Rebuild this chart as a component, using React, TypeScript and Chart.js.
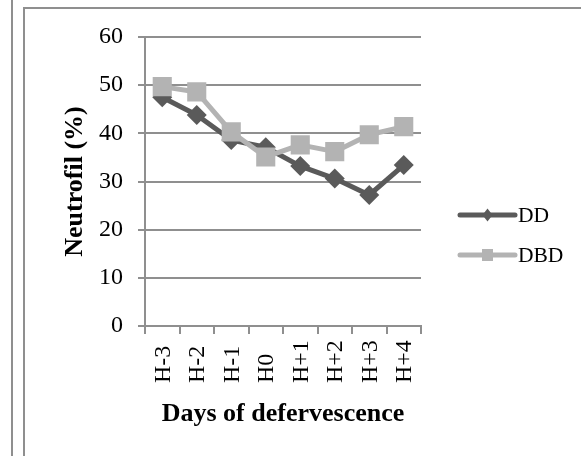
import React, { useEffect, useRef } from 'react';
import { Chart, registerables } from 'chart.js';

Chart.register(...registerables);

const categories = ['H-3', 'H-2', 'H-1', 'H0', 'H+1', 'H+2', 'H+3', 'H+4'];
const ddValues = [47.5, 43.8, 38.6, 37.1, 33.2, 30.6, 27.2, 33.4];
const dbdValues = [49.7, 48.6, 40.3, 35.1, 37.6, 36.2, 39.7, 41.4];
const yTicks = [0, 10, 20, 30, 40, 50, 60];
const seriesNames = ['DD', 'DBD'];
const yTitle = 'Neutrofil (%)';
const xTitle = 'Days of defervescence';

const DD_COLOR = '#5a5a5a';
const DBD_COLOR = '#b3b3b3';
const GRID = '#8f8f8f';
const SERIF = "'Liberation Serif', 'Times New Roman', serif";

const framePlugin = {
  id: 'frame',
  beforeDraw(chart: any) {
    const { ctx, width, height } = chart;
    ctx.save();
    ctx.strokeStyle = GRID;
    ctx.lineWidth = 2;
    ctx.beginPath();
    ctx.moveTo(12, 0);
    ctx.lineTo(12, height);
    ctx.moveTo(24, height);
    ctx.lineTo(24, 8);
    ctx.lineTo(width, 8);
    ctx.stroke();
    ctx.restore();
  },
};

const xLabelPlugin = {
  id: 'xLabels',
  afterDraw(chart: any) {
    const { ctx } = chart;
    const xs = chart.scales.x;
    ctx.save();
    ctx.font = `24px ${SERIF}`;
    ctx.fillStyle = '#000';
    ctx.textAlign = 'left';
    ctx.textBaseline = 'middle';
    categories.forEach((c, i) => {
      const x = xs.getPixelForValue(i);
      ctx.save();
      ctx.translate(x + 1, xs.top + 57);
      ctx.rotate(-Math.PI / 2);
      ctx.fillText(c, 0, 0);
      ctx.restore();
    });
    ctx.restore();
  },
};

const legendPlugin = {
  id: 'customLegend',
  afterDraw(chart: any) {
    const { ctx, chartArea } = chart;
    const colors = [DD_COLOR, DBD_COLOR];
    ctx.save();
    seriesNames.forEach((name, i) => {
      const y = chartArea.top + 178 + i * 40;
      const x0 = chartArea.right + 39;
      const x1 = chartArea.right + 94;
      const xm = (x0 + x1) / 2;
      ctx.strokeStyle = colors[i];
      ctx.fillStyle = colors[i];
      ctx.lineWidth = 5;
      ctx.lineCap = 'round';
      ctx.beginPath();
      ctx.moveTo(x0, y);
      ctx.lineTo(x1, y);
      ctx.stroke();
      ctx.beginPath();
      if (i === 0) {
        ctx.moveTo(xm, y - 6.5);
        ctx.lineTo(xm + 5, y);
        ctx.lineTo(xm, y + 6.5);
        ctx.lineTo(xm - 5, y);
        ctx.closePath();
      } else {
        ctx.rect(xm - 5.5, y - 6, 11, 12);
      }
      ctx.fill();
      ctx.fillStyle = '#000';
      ctx.font = `21.5px ${SERIF}`;
      ctx.textAlign = 'left';
      ctx.textBaseline = 'middle';
      ctx.fillText(name, x1 + 3, y + 1);
    });
    ctx.restore();
  },
};

export default function App() {
  const ref = useRef<HTMLCanvasElement | null>(null);

  useEffect(() => {
    if (!ref.current) return;
    const chart = new Chart(ref.current, {
      type: 'line',
      data: {
        labels: categories,
        datasets: [
          {
            label: seriesNames[0],
            data: ddValues,
            borderColor: DD_COLOR,
            backgroundColor: DD_COLOR,
            borderWidth: 5,
            borderJoinStyle: 'round',
            pointStyle: 'rectRot',
            pointRadius: 10,
            pointHoverRadius: 10,
            pointBorderWidth: 0,
            pointBackgroundColor: DD_COLOR,
            tension: 0,
            order: 1,
          },
          {
            label: seriesNames[1],
            data: dbdValues,
            borderColor: DBD_COLOR,
            backgroundColor: DBD_COLOR,
            borderWidth: 5,
            borderJoinStyle: 'round',
            pointStyle: 'rect',
            pointRadius: 13.5,
            pointHoverRadius: 13.5,
            pointBorderWidth: 0,
            pointBackgroundColor: DBD_COLOR,
            tension: 0,
            order: 0,
          },
        ],
      },
      options: {
        responsive: false,
        animation: false,
        layout: { padding: { left: 0, top: 37, right: 160, bottom: 0 } },
        plugins: { legend: { display: false }, tooltip: { enabled: false } },
        scales: {
          x: {
            type: 'category',
            offset: true,
            grid: {
              offset: true,
              drawOnChartArea: false,
              drawTicks: true,
              tickLength: 8,
              color: GRID,
              lineWidth: 2,
            },
            border: { color: GRID, width: 2 },
            ticks: { display: false },
            title: {
              display: true,
              text: xTitle,
              color: '#000',
              font: { family: SERIF, size: 26, weight: 'bold' },
              padding: { top: 0, bottom: 26 },
            },
            afterFit: (s: any) => {
              s.height = 130;
            },
          },
          y: {
            min: 0,
            max: 60,
            afterBuildTicks: (s: any) => {
              s.ticks = yTicks.map((v) => ({ value: v }));
            },
            ticks: {
              color: '#000',
              font: { family: SERIF, size: 24 },
              padding: 15,
            },
            grid: { color: GRID, lineWidth: 2, tickLength: 7 },
            border: { color: GRID, width: 2 },
            title: {
              display: true,
              text: yTitle,
              color: '#000',
              font: { family: SERIF, size: 26, weight: 'bold' },
              padding: { top: 60, bottom: 0 },
            },
            afterFit: (s: any) => {
              s.width = 145;
            },
          },
        },
      },
      plugins: [framePlugin, xLabelPlugin, legendPlugin],
    } as any);
    return () => chart.destroy();
  }, []);

  return (
    <div style={{ position: 'fixed', left: 0, top: 0, width: 581, height: 456, background: '#fff' }}>
      <canvas ref={ref} width={581} height={456} />
    </div>
  );
}
